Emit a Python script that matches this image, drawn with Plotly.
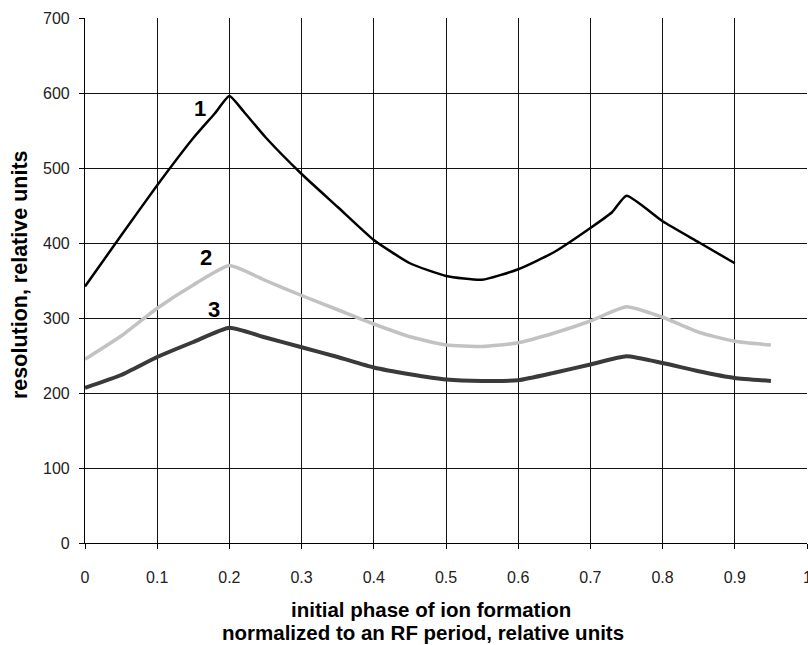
import plotly.graph_objects as go

# Data
x1 = [0, 0.05, 0.1, 0.15, 0.18, 0.2, 0.22, 0.25, 0.3, 0.35, 0.4, 0.45, 0.5, 0.55,
      0.6, 0.65, 0.7, 0.73, 0.75, 0.8, 0.85, 0.9]
y1 = [342, 410, 477, 540, 573, 596, 575, 541, 492, 448, 404, 373, 356, 351,
      365, 388, 420, 441, 463, 429, 401, 373]

x23 = [0, 0.05, 0.1, 0.15, 0.2, 0.25, 0.3, 0.35, 0.4, 0.45, 0.5, 0.55, 0.6,
       0.65, 0.7, 0.75, 0.8, 0.85, 0.9, 0.95]
y2 = [245, 276, 313, 344, 370, 350, 330, 311, 292, 275, 264, 262, 267,
      280, 296, 315, 301, 281, 269, 264]
y3 = [207, 224, 248, 268, 287, 274, 261, 248, 234, 225, 218, 216, 217,
      227, 238, 249, 240, 229, 220, 216]

curve_labels = ["1", "2", "3"]
label_x = [0.159, 0.167, 0.178]
label_y = [580, 381, 312]

x_ticks = [0, 0.1, 0.2, 0.3, 0.4, 0.5, 0.6, 0.7, 0.8, 0.9, 1]
x_tick_text = ["0", "0.1", "0.2", "0.3", "0.4", "0.5", "0.6", "0.7", "0.8", "0.9", "1"]
y_ticks = [0, 100, 200, 300, 400, 500, 600, 700]

FONT = "Liberation Sans, Arial, sans-serif"

fig = go.Figure()
fig.add_trace(go.Scatter(x=x23, y=y3, mode="lines",
                         line=dict(color="#3a3a3a", width=4, shape="spline", smoothing=0.5)))
fig.add_trace(go.Scatter(x=x23, y=y2, mode="lines",
                         line=dict(color="#c2c2c2", width=3.5, shape="spline", smoothing=0.5)))
fig.add_trace(go.Scatter(x=x1, y=y1, mode="lines",
                         line=dict(color="#000000", width=2.5, shape="spline", smoothing=0.5)))

for t, lx, ly in zip(curve_labels, label_x, label_y):
    fig.add_annotation(x=lx, y=ly, text="<b>%s</b>" % t, showarrow=False,
                       font=dict(family=FONT, size=22, color="black"))

# last x tick label, partly cut by the right edge as in the reference
fig.add_annotation(xref="x", yref="paper", x=x_ticks[-1], y=-(577 - 543) / 525,
                   text=x_tick_text[-1], showarrow=False,
                   xanchor="center", yanchor="middle",
                   font=dict(family=FONT, size=16, color="#222222"))

fig.add_annotation(xref="paper", yref="paper", x=(431 - 85) / 722, y=-(609 - 543) / 525,
                   text="<b>initial phase of ion formation</b>", showarrow=False,
                   xanchor="center", yanchor="middle",
                   font=dict(family=FONT, size=20.5, color="black"))
fig.add_annotation(xref="paper", yref="paper", x=(423 - 85) / 722, y=-(632 - 543) / 525,
                   text="<b>normalized to an RF period, relative units</b>", showarrow=False,
                   xanchor="center", yanchor="middle",
                   font=dict(family=FONT, size=20.5, color="black"))
fig.add_annotation(xref="paper", yref="paper", x=-(85 - 20) / 722, y=(543 - 275) / 525,
                   text="<b>resolution, relative units</b>", showarrow=False, textangle=-90,
                   xanchor="center", yanchor="middle",
                   font=dict(family=FONT, size=21.5, color="black"))

fig.update_layout(
    width=808, height=645,
    margin=dict(l=85, r=1, t=18, b=102, autoexpand=False),
    paper_bgcolor="white", plot_bgcolor="white",
    showlegend=False,
    xaxis=dict(range=[0, 1], tickvals=x_ticks, ticktext=x_tick_text,
               showgrid=True, gridcolor="#111111", gridwidth=1.2,
               showline=True, linecolor="#000000", linewidth=1.2,
               ticks="outside", ticklen=5, tickcolor="#000000",
               ticklabelstandoff=15,
               tickfont=dict(family=FONT, size=16, color="#222222"),
               zeroline=False, fixedrange=True),
    yaxis=dict(range=[0, 700], tickvals=y_ticks,
               showgrid=True, gridcolor="#111111", gridwidth=1.2,
               showline=True, linecolor="#000000", linewidth=1.2,
               ticks="outside", ticklen=5, tickcolor="#000000",
               ticklabelstandoff=6,
               tickfont=dict(family=FONT, size=16, color="#222222"),
               zeroline=False, fixedrange=True),
)

fig.write_html("out.html")
